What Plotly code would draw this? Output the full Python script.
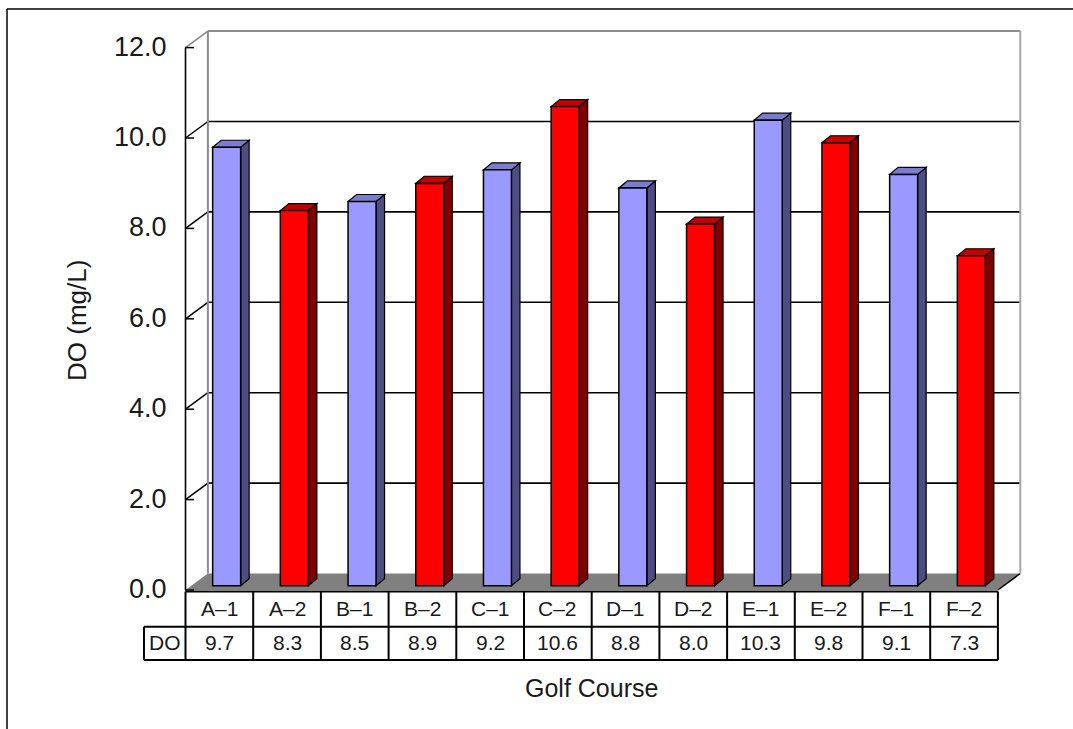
import plotly.graph_objects as go

# ---- data -------------------------------------------------------------
categories = ["A–1", "A–2", "B–1", "B–2", "C–1", "C–2",
              "D–1", "D–2", "E–1", "E–2", "F–1", "F–2"]
do_values = [9.7, 8.3, 8.5, 8.9, 9.2, 10.6, 8.8, 8.0, 10.3, 9.8, 9.1, 7.3]
y_ticks = [0, 2, 4, 6, 8, 10, 12]
y_tick_labels = ["0.0", "2.0", "4.0", "6.0", "8.0", "10.0", "12.0"]
series_name = "DO"
x_title = "Golf Course"
y_title = "DO (mg/L)"

# ---- geometry (pixels) -----------------------------------------------
W, H = 1073, 729
X0, CW = 185.5, 67.7       # front plane: left edge and width of one category
Y0, S = 590.0, 45.2        # front plane: zero line and pixels per unit

n = len(categories)
ymax = y_ticks[-1]

# oblique depth of the walls and of the bars, in data units
WDX, WDY = 22.4 / CW, 16.5 / S
BDX, BDY = 8.5 / CW, 7.0 / S
BAR_W = 28.0 / CW
BAR_SHIFT = 7.3 / CW
BAR_BASE = 4.3 / S


def vy(py):
    """pixel row -> value units"""
    return (Y0 - py) / S


def ux(px):
    """pixel column -> category units"""
    return (px - X0) / CW


FONT = "Liberation Sans, Arial, sans-serif"
TEXT = "#1a1a1a"
BLUE = {"front": "#9999FF", "side": "#4D4D82", "top": "#7B7BD0"}
RED = {"front": "#FF0000", "side": "#800000", "top": "#C40000"}
palette = [BLUE if c.endswith("1") else RED for c in categories]

shapes = []


def line(x0, y0, x1, y1, color="black", width=1.5, ref="x"):
    shapes.append(dict(type="line", xref=ref, yref=ref.replace("x", "y"),
                       x0=x0, y0=y0, x1=x1, y1=y1, layer="below",
                       line=dict(color=color, width=width)))


def poly(pts, fill, lw=1.2, lc="black"):
    path = "M " + " L ".join(f"{x},{y}" for x, y in pts) + " Z"
    shapes.append(dict(type="path", xref="x", yref="y", path=path, layer="below",
                       fillcolor=fill, line=dict(color=lc, width=lw)))


# floor
poly([(0, 0), (n, 0), (n + WDX, WDY), (WDX, WDY)], "#808080", lw=0, lc="rgba(0,0,0,0)")
line(n, 0, n + WDX, WDY, width=1.5)

# back wall gridlines and side wall diagonals
for v in y_ticks[1:-1]:
    line(WDX, v + WDY, n + WDX, v + WDY, width=1.6)
    line(0, v, WDX, v + WDY, width=1.5)

# wall outlines
GRAY = "#8C8C8C"
line(WDX, WDY, WDX, ymax + WDY, color=GRAY, width=2)
line(WDX, ymax + WDY, n + WDX, ymax + WDY, color=GRAY, width=2)
line(n + WDX, WDY, n + WDX, ymax + WDY, color="#A8A8A8", width=2)
line(0, ymax, WDX, ymax + WDY, color=GRAY, width=1.8)

# value axis with its tick marks
line(0, 0, 0, ymax, width=1.6)
for v in y_ticks:
    line(ux(X0 - 0.5), v, ux(X0 + 8.5), v, width=1.5)

# side and top faces of each bar
for i, (v, pal) in enumerate(zip(do_values, palette)):
    xl = i + 0.5 + BAR_SHIFT - BAR_W / 2
    xr = xl + BAR_W
    b, t = BAR_BASE, BAR_BASE + v
    poly([(xr, b), (xr, t), (xr + BDX, t + BDY), (xr + BDX, b + BDY)], pal["side"])
    poly([(xl, t), (xr, t), (xr + BDX, t + BDY), (xl + BDX, t + BDY)], pal["top"])

# data table
T_TOP, T_MID, T_BOT = vy(591.5), vy(626.7), vy(660.0)
DO_LEFT = ux(144.0)
line(0, T_TOP, n, T_TOP, width=2)
line(DO_LEFT, T_MID, n, T_MID, width=2)
line(DO_LEFT, T_BOT, n, T_BOT, width=2)
line(DO_LEFT, T_MID, DO_LEFT, T_BOT, width=2)
for i in range(n + 1):
    line(i, T_TOP, i, T_BOT, width=2)

# outer chart frame
line(7 / W, 1 - 9 / H, 1.02, 1 - 9 / H, width=1.5, ref="paper")
line(7 / W, 1 - 9 / H, 7 / W, -0.02, width=1.5, ref="paper")

# ---- traces -------------------------------------------------------------
fig = go.Figure()
fig.add_trace(go.Bar(
    x=[i + 0.5 + BAR_SHIFT for i in range(n)],
    y=do_values,
    base=BAR_BASE,
    width=BAR_W,
    marker=dict(color=[p["front"] for p in palette],
                line=dict(color="black", width=1.5)),
    name=series_name,
    hoverinfo="skip",
))

annotations = []
for v, lab in zip(y_ticks, y_tick_labels):
    annotations.append(dict(x=0, y=v, xref="x", yref="y", text=lab,
                            xanchor="right", yanchor="middle", xshift=-17, yshift=1,
                            showarrow=False, font=dict(family=FONT, size=27, color=TEXT)))

y_cat = (T_TOP + T_MID) / 2
y_val = (T_MID + T_BOT) / 2
for i, (c, v) in enumerate(zip(categories, do_values)):
    annotations.append(dict(x=i + 0.5, y=y_cat, xref="x", yref="y", text=c,
                            showarrow=False, yshift=1,
                            font=dict(family=FONT, size=21, color=TEXT)))
    annotations.append(dict(x=i + 0.5, y=y_val, xref="x", yref="y", text=f"{v:.1f}",
                            showarrow=False, yshift=1,
                            font=dict(family=FONT, size=21, color=TEXT)))
annotations.append(dict(x=DO_LEFT, y=y_val, xref="x", yref="y", text=series_name,
                        xanchor="left", xshift=3, showarrow=False, yshift=1,
                        font=dict(family=FONT, size=21, color=TEXT)))

annotations.append(dict(x=n / 2, y=vy(688), xref="x", yref="y", text=x_title,
                        showarrow=False, font=dict(family=FONT, size=25, color=TEXT)))
annotations.append(dict(x=ux(77), y=vy(321), xref="x", yref="y", text=y_title,
                        textangle=-90, showarrow=False,
                        font=dict(family=FONT, size=26, color=TEXT)))

fig.update_layout(
    width=W, height=H,
    margin=dict(l=0, r=0, t=0, b=0),
    paper_bgcolor="white", plot_bgcolor="white",
    showlegend=False,
    xaxis=dict(range=[ux(0), ux(W)], visible=False, fixedrange=True),
    yaxis=dict(range=[vy(H), vy(0)], visible=False, fixedrange=True),
    shapes=shapes,
    annotations=annotations,
)

fig.write_html("out.html")
